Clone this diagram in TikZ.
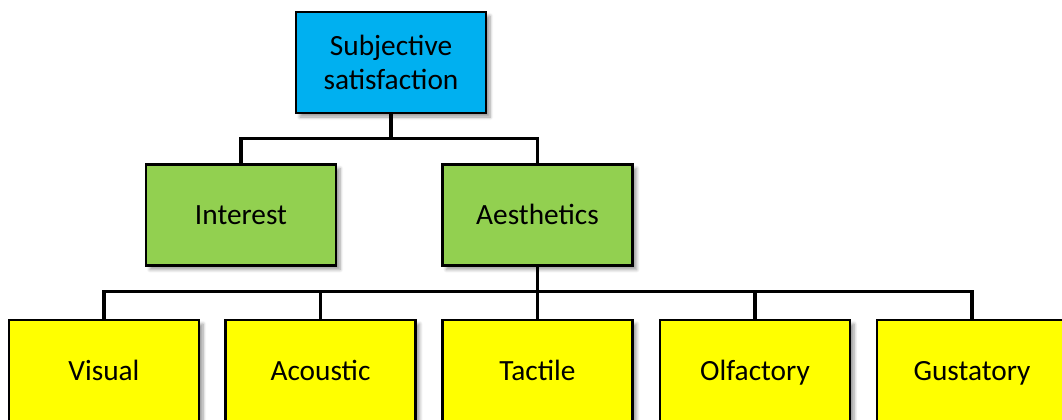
\documentclass[tikz,border=0pt]{standalone}
\usepackage{fontspec}
\setmainfont{Carlito}
\usetikzlibrary{shadows.blur}
\definecolor{topblue}{HTML}{00B0F0}
\definecolor{midgreen}{HTML}{92D050}
\definecolor{leafyellow}{HTML}{FFFF00}
\tikzset{
  box/.style={draw=black, line width=2pt, minimum width=142.5pt, minimum height=75.75pt,
    inner sep=0pt, align=center, font=\fontsize{22}{25.5}\selectfont,
    blur shadow={shadow xshift=3pt, shadow yshift=-3pt, shadow blur steps=6, shadow blur radius=2.5pt}},
  oneline/.style={text height=18pt, text depth=3.6pt},
  rootbox/.style={box, fill=topblue},
  groupbox/.style={box, oneline, fill=midgreen},
  leafbox/.style={box, oneline, fill=leafyellow},
  conn/.style={draw=black, line width=2.4pt, line join=miter}
}
\begin{document}
\begin{tikzpicture}[x=0.75pt, y=-0.75pt]
\useasboundingbox (0,0) rectangle (1062,419);
\clip (0,0) rectangle (1062,419);

% root
\node[rootbox] (root) at (391,62.5) {Subjective\\satisfaction};

% second level
\node[groupbox] (interest) at (241,215) {Interest};
\node[groupbox] (aesth) at (537.5,215) {Aesthetics};

% leaves
\node[leafbox] (visual) at (104,370.5) {Visual};
\node[leafbox] (acoustic) at (320.5,370.5) {Acoustic};
\node[leafbox] (tactile) at (537.5,370.5) {Tactile};
\node[leafbox] (olfactory) at (755,370.5) {Olfactory};
\node[leafbox] (gustatory) at (972,370.5) {Gustatory};

% connectors
\draw[conn] (root.south) -- ++(0,24) -| (interest.north);
\draw[conn] (root.south) -- ++(0,24) -| (aesth.north);
\foreach \leaf in {visual,acoustic,tactile,olfactory,gustatory}
  \draw[conn] (aesth.south) -- ++(0,25) -| (\leaf.north);
\end{tikzpicture}
\end{document}
